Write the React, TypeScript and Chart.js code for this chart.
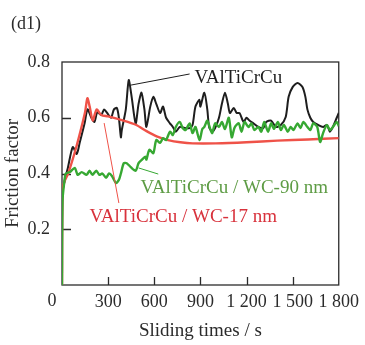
import React, { useEffect, useRef } from "react";
import { Chart, registerables } from "chart.js";

Chart.register(...registerables);

// ---- data (time in s, friction factor) ----
const blackTime = [0, 3, 20, 38, 70, 96, 115, 147, 166, 191, 211, 230, 255, 274, 294, 319, 338, 357, 370, 383, 389, 415, 434, 453, 479, 498, 517, 536, 549, 574, 594, 613, 638, 657, 677, 702, 721, 740, 766, 798, 830, 849, 868, 894, 900, 926, 945, 957, 977, 996, 1021, 1040, 1060, 1079, 1092, 1117, 1136, 1155, 1181, 1200, 1219, 1245, 1277, 1309, 1328, 1360, 1391, 1423, 1455, 1474, 1500, 1532, 1564, 1583, 1596, 1615, 1634, 1666, 1698, 1723, 1743, 1762, 1787, 1800];
const blackValue = [0, 0.33, 0.38, 0.42, 0.495, 0.47, 0.51, 0.58, 0.63, 0.6, 0.585, 0.62, 0.61, 0.63, 0.617, 0.6, 0.63, 0.635, 0.6, 0.53, 0.556, 0.63, 0.735, 0.675, 0.58, 0.65, 0.69, 0.63, 0.567, 0.64, 0.675, 0.65, 0.617, 0.64, 0.6, 0.58, 0.567, 0.55, 0.567, 0.563, 0.563, 0.574, 0.64, 0.665, 0.64, 0.69, 0.63, 0.567, 0.55, 0.563, 0.6, 0.65, 0.69, 0.65, 0.617, 0.635, 0.617, 0.617, 0.585, 0.6, 0.59, 0.58, 0.567, 0.563, 0.585, 0.59, 0.567, 0.574, 0.603, 0.675, 0.71, 0.725, 0.71, 0.675, 0.63, 0.6, 0.585, 0.574, 0.567, 0.574, 0.55, 0.567, 0.6, 0.617];

const greenTime = [0, 3, 15, 25, 51, 83, 102, 128, 160, 179, 198, 223, 243, 262, 287, 306, 326, 351, 370, 383, 402, 421, 447, 479, 498, 517, 543, 549, 568, 594, 613, 638, 657, 677, 702, 721, 740, 766, 785, 804, 830, 849, 868, 894, 913, 926, 945, 964, 977, 996, 1021, 1040, 1060, 1085, 1104, 1123, 1149, 1168, 1187, 1213, 1232, 1251, 1277, 1296, 1315, 1340, 1360, 1379, 1404, 1423, 1443, 1468, 1487, 1506, 1532, 1551, 1570, 1596, 1615, 1634, 1660, 1679, 1698, 1723, 1743, 1762, 1787, 1800];
const greenValue = [0, 0.3, 0.37, 0.4, 0.405, 0.42, 0.395, 0.405, 0.395, 0.41, 0.395, 0.41, 0.395, 0.4, 0.385, 0.4, 0.39, 0.366, 0.377, 0.4, 0.437, 0.437, 0.423, 0.41, 0.437, 0.448, 0.46, 0.45, 0.485, 0.473, 0.52, 0.51, 0.527, 0.52, 0.55, 0.538, 0.567, 0.585, 0.563, 0.556, 0.58, 0.545, 0.567, 0.52, 0.56, 0.567, 0.59, 0.56, 0.545, 0.58, 0.567, 0.585, 0.56, 0.6, 0.53, 0.565, 0.58, 0.55, 0.585, 0.567, 0.58, 0.556, 0.567, 0.55, 0.585, 0.55, 0.58, 0.56, 0.585, 0.556, 0.574, 0.55, 0.567, 0.556, 0.58, 0.563, 0.585, 0.567, 0.556, 0.58, 0.567, 0.513, 0.545, 0.574, 0.556, 0.567, 0.585, 0.57];

const redTime = [0, 3, 15, 40, 80, 110, 150, 165, 180, 200, 225, 255, 300, 400, 480, 550, 620, 690, 770, 850, 1000, 1200, 1400, 1600, 1800];
const redValue = [0, 0.34, 0.37, 0.4, 0.47, 0.53, 0.62, 0.67, 0.64, 0.59, 0.63, 0.61, 0.605, 0.59, 0.575, 0.552, 0.532, 0.52, 0.512, 0.508, 0.508, 0.512, 0.518, 0.522, 0.527];

const xTickValues = [0, 300, 600, 900, 1200, 1500, 1800];
const yTickValues = [0.2, 0.4, 0.6, 0.8];

const seriesNames = ["VAlTiCrCu", "VAlTiCrCu / WC-90 nm", "VAlTiCrCu / WC-17 nm"];

// label anchors in data units: [leaderStartT, leaderStartV, leaderEndT, leaderEndV, textT, textV]
const blackLabel = [447, 0.717, 830, 0.757, 862, 0.725];
const greenLabel = [498, 0.42, 626, 0.398, 511, 0.33];
const redLabel = [274, 0.581, 370, 0.294, 179, 0.226];

const BLACK = "#1e1e1e";
const GREEN = "#36a832";
const RED = "#ef5248";
const GREEN_TEXT = "#5e9c45";
const RED_TEXT = "#d8323c";
const AXIS = "#2b2b2b";
const FONT = "'Liberation Serif', 'Times New Roman', serif";

const fmtTick = (v: number) => {
  const s = String(v);
  return s.length > 3 ? s.slice(0, s.length - 3) + " " + s.slice(-3) : s;
};

const toPts = (t: number[], v: number[]) => t.map((x, i) => ({ x, y: v[i] }));

const overlay = {
  id: "overlay",
  beforeDatasetsDraw(chart: any) {
    const { ctx, chartArea: a, scales } = chart;
    const x = scales.x;
    const y = scales.y;
    ctx.save();
    ctx.strokeStyle = AXIS;
    ctx.lineWidth = 1.3;
    ctx.strokeRect(a.left, a.top, a.right - a.left, a.bottom - a.top);
    ctx.lineWidth = 1.3;
    ctx.beginPath();
    xTickValues.slice(1, -1).forEach((v) => {
      const px = Math.round(x.getPixelForValue(v)) + 0.5;
      ctx.moveTo(px, a.bottom);
      ctx.lineTo(px, a.bottom - 8);
    });
    yTickValues.slice(0, -1).forEach((v) => {
      const py = Math.round(y.getPixelForValue(v)) + 0.5;
      ctx.moveTo(a.left, py);
      ctx.lineTo(a.left + 9, py);
    });
    ctx.stroke();
    // origin label
    ctx.fillStyle = AXIS;
    ctx.font = `18px ${FONT}`;
    ctx.textAlign = "center";
    ctx.textBaseline = "middle";
    ctx.fillText("0", x.getPixelForValue(0) - 10, a.bottom + 16);
    // panel tag
    ctx.textAlign = "left";
    ctx.fillText("(d1)", 11, 24);
    ctx.restore();
  },
  afterDatasetsDraw(chart: any) {
    const { ctx, scales } = chart;
    const x = scales.x;
    const y = scales.y;
    const items: [number[], string, string, string, number][] = [
      [blackLabel, BLACK, BLACK, seriesNames[0], 1],
      [greenLabel, GREEN, GREEN_TEXT, seriesNames[1], 1],
      [redLabel, RED, RED_TEXT, seriesNames[2], 1],
    ];
    ctx.save();
    ctx.font = `19px ${FONT}`;
    ctx.textAlign = "left";
    ctx.textBaseline = "alphabetic";
    items.forEach(([p, lineColor, textColor, text, lw]) => {
      ctx.strokeStyle = lineColor;
      ctx.lineWidth = lw;
      ctx.beginPath();
      ctx.moveTo(x.getPixelForValue(p[0]), y.getPixelForValue(p[1]));
      ctx.lineTo(x.getPixelForValue(p[2]), y.getPixelForValue(p[3]));
      ctx.stroke();
      ctx.fillStyle = textColor;
      ctx.fillText(text, x.getPixelForValue(p[4]), y.getPixelForValue(p[5]));
    });
    ctx.restore();
  },
};

export default function App() {
  const ref = useRef<HTMLCanvasElement | null>(null);
  useEffect(() => {
    if (!ref.current) return;
    const chart = new Chart(ref.current, {
      type: "line",
      data: {
        datasets: [
          { label: seriesNames[1], data: toPts(greenTime, greenValue), borderColor: GREEN, borderWidth: 2.4, order: 1 },
          { label: seriesNames[2], data: toPts(redTime, redValue), borderColor: RED, borderWidth: 2.4, order: 2 },
          { label: seriesNames[0], data: toPts(blackTime, blackValue), borderColor: BLACK, borderWidth: 2, order: 3 },
        ].map((d) => ({ ...d, pointRadius: 0, tension: 0.25, fill: false })),
      },
      options: {
        animation: false,
        responsive: false,
        maintainAspectRatio: false,
        layout: { padding: { top: 62, right: 21, left: 0, bottom: 0 } },
        plugins: { legend: { display: false }, tooltip: { enabled: false }, title: { display: false } },
        scales: {
          x: {
            type: "linear",
            min: 0,
            max: 1800,
            afterFit: (s: any) => { s.height = 60; },
            afterBuildTicks: (s: any) => { s.ticks = xTickValues.map((v) => ({ value: v })); },
            grid: { display: false, drawTicks: false },
            border: { display: false },
            ticks: {
              padding: 6,
              maxRotation: 0,
              autoSkip: false,
              color: AXIS,
              font: { family: FONT, size: 18 },
              callback: (v: any) => (v === 0 ? "" : fmtTick(v)),
            },
            title: { display: true, text: "Sliding times / s", color: AXIS, font: { family: FONT, size: 19 }, padding: { top: 0, bottom: 3 } },
          },
          y: {
            min: 0,
            max: 0.8,
            afterFit: (s: any) => { s.width = 62; },
            afterBuildTicks: (s: any) => { s.ticks = yTickValues.map((v) => ({ value: v })); },
            grid: { display: false, drawTicks: false },
            border: { display: false },
            ticks: {
              padding: 12,
              autoSkip: false,
              color: AXIS,
              font: { family: FONT, size: 18 },
              callback: (v: any) => Number(v).toFixed(1),
            },
            title: { display: true, text: "Friction factor", color: AXIS, font: { family: FONT, size: 19 }, padding: { top: 2, bottom: 0 } },
          },
        },
      },
      plugins: [overlay],
    } as any);
    return () => chart.destroy();
  }, []);
  return (
    <div style={{ position: "fixed", left: 0, top: 0, width: 365, height: 345, background: "#fff" }}>
      <canvas ref={ref} width={365} height={345} style={{ width: 365, height: 345, display: "block" }} />
    </div>
  );
}
